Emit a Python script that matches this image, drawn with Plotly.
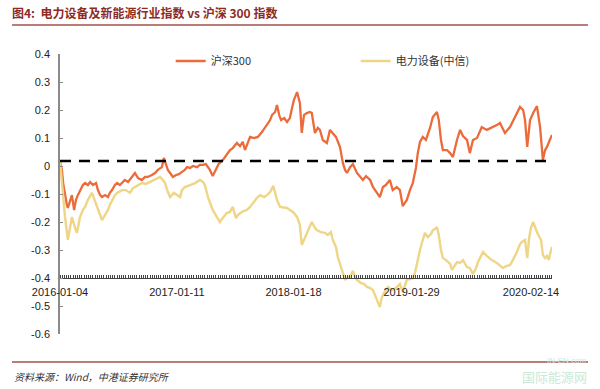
import plotly.graph_objects as go

# ---------------- data ----------------
hs300_dates = [
    "2016-01-04","2016-01-10","2016-01-14","2016-01-20","2016-01-26","2016-01-29","2016-02-05","2016-02-11",
    "2016-02-18","2016-02-24","2016-03-01","2016-03-08","2016-03-17","2016-03-24","2016-04-02","2016-04-09",
    "2016-04-18","2016-04-28","2016-05-04","2016-05-11","2016-05-17","2016-05-27","2016-06-05","2016-06-11",
    "2016-06-18","2016-06-27","2016-07-04","2016-07-13","2016-07-20","2016-07-29","2016-08-08","2016-08-21",
    "2016-08-30","2016-09-09","2016-09-21","2016-10-01","2016-10-10","2016-10-23","2016-11-02","2016-11-11",
    "2016-11-24","2016-11-30","2016-12-07","2016-12-13","2016-12-20","2016-12-29","2017-01-08","2017-01-17",
    "2017-01-27","2017-02-05","2017-02-12","2017-02-22","2017-03-03","2017-03-16","2017-03-25","2017-04-04",
    "2017-04-13","2017-04-26","2017-05-05","2017-05-15","2017-05-24","2017-06-06","2017-06-19","2017-06-29",
    "2017-07-08","2017-07-21","2017-07-31","2017-08-09","2017-08-16","2017-08-25","2017-09-01","2017-09-14",
    "2017-09-26","2017-10-09","2017-10-19","2017-10-25","2017-11-04","2017-11-10","2017-11-20","2017-11-26",
    "2017-12-03","2017-12-09","2017-12-19","2017-12-28","2018-01-06","2018-01-13","2018-01-19","2018-01-29",
    "2018-02-04","2018-02-07","2018-02-13","2018-02-20","2018-03-01","2018-03-11","2018-03-17","2018-03-27",
    "2018-04-05","2018-04-12","2018-04-21","2018-05-04","2018-05-14","2018-05-23","2018-06-02","2018-06-15",
    "2018-06-24","2018-07-01","2018-07-07","2018-07-17","2018-07-26","2018-08-08","2018-08-18","2018-08-27",
    "2018-09-06","2018-09-19","2018-09-28","2018-10-11","2018-10-20","2018-10-30","2018-11-08","2018-11-21",
    "2018-11-30","2018-12-13","2018-12-23","2019-01-01","2019-01-14","2019-01-24","2019-02-02","2019-02-12",
    "2019-02-18","2019-02-25","2019-03-06","2019-03-16","2019-03-29","2019-04-07","2019-04-20","2019-04-26",
    "2019-05-03","2019-05-09","2019-05-22","2019-06-01","2019-06-10","2019-06-23","2019-07-03","2019-07-12",
    "2019-07-25","2019-08-03","2019-08-13","2019-08-26","2019-09-10","2019-09-26","2019-10-16","2019-10-28",
    "2019-11-07","2019-11-23","2019-12-09","2019-12-25","2020-01-04","2020-01-10","2020-01-20","2020-01-26",
    "2020-02-02","2020-02-11","2020-02-21","2020-03-04","2020-03-14","2020-03-20","2020-03-23","2020-03-30",
    "2020-04-05","2020-04-14","2020-04-21",
]
hs300_values = [
    0.018,-0.014,-0.061,-0.104,-0.139,-0.150,-0.121,-0.104,
    -0.157,-0.121,-0.104,-0.086,-0.068,-0.061,-0.068,-0.057,
    -0.068,-0.061,-0.086,-0.104,-0.111,-0.104,-0.111,-0.096,
    -0.086,-0.068,-0.061,-0.068,-0.061,-0.050,-0.057,-0.039,
    -0.025,-0.043,-0.050,-0.039,-0.039,-0.032,-0.025,-0.014,
    -0.004,0.029,0.004,-0.014,-0.025,-0.039,-0.032,-0.029,
    -0.021,-0.014,-0.004,-0.007,0.000,-0.004,0.004,0.004,
    0.007,-0.014,-0.036,-0.014,0.007,0.021,0.039,0.057,
    0.064,0.082,0.071,0.086,0.057,0.082,0.104,0.100,
    0.104,0.121,0.136,0.146,0.164,0.182,0.193,0.218,
    0.182,0.164,0.171,0.157,0.171,0.207,0.236,0.264,
    0.243,0.225,0.118,0.182,0.189,0.193,0.189,0.118,
    0.136,0.129,0.093,0.082,0.129,0.118,0.104,0.068,
    0.011,-0.014,-0.025,-0.004,0.007,-0.025,-0.039,-0.050,
    -0.036,-0.050,-0.075,-0.096,-0.111,-0.075,-0.068,-0.050,
    -0.086,-0.075,-0.086,-0.143,-0.121,-0.086,-0.061,-0.007,
    0.046,0.086,0.104,0.093,0.136,0.175,0.193,0.164,
    0.093,0.057,0.057,0.046,0.032,0.093,0.129,0.107,
    0.093,0.046,0.093,0.100,0.139,0.129,0.139,0.146,
    0.154,0.118,0.139,0.175,0.200,0.211,0.200,0.164,
    0.068,0.164,0.189,0.214,0.139,0.075,0.021,0.057,
    0.068,0.093,0.111,
]

elec_dates = [
    "2016-01-04","2016-01-10","2016-01-20","2016-01-29","2016-02-05","2016-02-11","2016-02-21","2016-02-27",
    "2016-03-08","2016-03-17","2016-03-24","2016-04-02","2016-04-15","2016-04-24","2016-05-01","2016-05-11",
    "2016-05-17","2016-05-27","2016-06-05","2016-06-11","2016-06-18","2016-06-27","2016-07-04","2016-07-13",
    "2016-07-20","2016-08-01","2016-08-14","2016-08-24","2016-08-30","2016-09-12","2016-09-21","2016-10-04",
    "2016-10-17","2016-11-02","2016-11-11","2016-11-18","2016-11-27","2016-12-04","2016-12-13","2016-12-20",
    "2017-01-01","2017-01-14","2017-01-21","2017-01-27","2017-02-05","2017-02-22","2017-03-10","2017-03-25",
    "2017-04-04","2017-04-10","2017-04-20","2017-04-29","2017-05-05","2017-05-18","2017-05-28","2017-06-06",
    "2017-06-19","2017-06-29","2017-07-08","2017-07-18","2017-07-24","2017-08-06","2017-08-22","2017-09-01",
    "2017-09-10","2017-09-23","2017-10-03","2017-10-16","2017-10-25","2017-11-04","2017-11-14","2017-11-20",
    "2017-11-26","2017-12-06","2017-12-19","2017-12-28","2018-01-06","2018-01-16","2018-01-29","2018-02-07",
    "2018-02-13","2018-02-20","2018-03-01","2018-03-11","2018-03-17","2018-03-27","2018-04-02","2018-04-15",
    "2018-04-28","2018-05-07","2018-05-17","2018-05-23","2018-06-02","2018-06-08","2018-06-15","2018-06-21",
    "2018-07-01","2018-07-10","2018-07-17","2018-07-26","2018-08-01","2018-08-08","2018-08-21","2018-08-30",
    "2018-09-09","2018-09-19","2018-09-28","2018-10-07","2018-10-14","2018-10-20","2018-10-26","2018-11-02",
    "2018-11-15","2018-11-27","2018-12-10","2018-12-23","2019-01-01","2019-01-08","2019-01-14","2019-01-24",
    "2019-02-02","2019-02-09","2019-02-18","2019-02-25","2019-03-03","2019-03-13","2019-03-22","2019-04-01",
    "2019-04-07","2019-04-14","2019-04-20","2019-04-26","2019-05-03","2019-05-09","2019-05-19","2019-06-01",
    "2019-06-07","2019-06-17","2019-06-23","2019-07-03","2019-07-12","2019-07-25","2019-08-03","2019-08-13",
    "2019-08-23","2019-08-29","2019-09-07","2019-09-14","2019-09-26","2019-10-12","2019-10-28","2019-11-07",
    "2019-11-16","2019-11-29","2019-12-09","2019-12-18","2019-12-25","2019-12-31","2020-01-10","2020-01-16",
    "2020-01-26","2020-02-02","2020-02-08","2020-02-14","2020-02-21","2020-02-27","2020-03-04","2020-03-10",
    "2020-03-17","2020-03-23","2020-03-30","2020-04-05","2020-04-11","2020-04-14","2020-04-21",
]
elec_values = [
    0.018,-0.068,-0.182,-0.264,-0.211,-0.182,-0.221,-0.239,
    -0.182,-0.157,-0.146,-0.121,-0.096,-0.121,-0.146,-0.175,
    -0.193,-0.175,-0.157,-0.139,-0.121,-0.104,-0.096,-0.089,
    -0.086,-0.086,-0.096,-0.079,-0.075,-0.068,-0.061,-0.064,
    -0.057,-0.050,-0.043,-0.039,-0.050,-0.061,-0.093,-0.111,
    -0.096,-0.104,-0.111,-0.086,-0.075,-0.068,-0.061,-0.050,
    -0.057,-0.068,-0.111,-0.139,-0.157,-0.182,-0.200,-0.186,
    -0.168,-0.164,-0.146,-0.186,-0.175,-0.164,-0.157,-0.146,
    -0.132,-0.114,-0.104,-0.111,-0.104,-0.093,-0.071,-0.096,
    -0.121,-0.146,-0.150,-0.150,-0.157,-0.164,-0.182,-0.211,
    -0.282,-0.264,-0.246,-0.218,-0.200,-0.221,-0.229,-0.236,
    -0.239,-0.246,-0.236,-0.264,-0.289,-0.325,-0.354,-0.371,
    -0.407,-0.396,-0.396,-0.375,-0.393,-0.407,-0.418,-0.421,
    -0.432,-0.436,-0.443,-0.471,-0.489,-0.504,-0.471,-0.454,
    -0.432,-0.443,-0.436,-0.421,-0.450,-0.425,-0.407,-0.404,
    -0.400,-0.382,-0.332,-0.300,-0.275,-0.239,-0.254,-0.243,
    -0.229,-0.225,-0.218,-0.246,-0.300,-0.329,-0.336,-0.350,
    -0.371,-0.354,-0.343,-0.346,-0.336,-0.361,-0.364,-0.386,
    -0.364,-0.343,-0.321,-0.307,-0.321,-0.336,-0.346,-0.354,
    -0.364,-0.357,-0.354,-0.336,-0.321,-0.307,-0.279,-0.271,
    -0.264,-0.329,-0.257,-0.221,-0.200,-0.221,-0.236,-0.250,
    -0.264,-0.318,-0.329,-0.321,-0.336,-0.318,-0.289,
]

baseline_value = 0.018
x_tick_dates = ["2016-01-04", "2017-01-11", "2018-01-18", "2019-01-29", "2020-02-14"]
y_tick_values = [-0.6, -0.5, -0.4, -0.3, -0.2, -0.1, 0.0, 0.1, 0.2, 0.3, 0.4]
y_tick_labels = ["-0.6", "-0.5", "-0.4", "-0.3", "-0.2", "-0.1", "0", "0.1", "0.2", "0.3", "0.4"]
series_names = ["沪深300", "电力设备(中信)"]
title_text = "图4:  电力设备及新能源行业指数 vs 沪深 300 指数"
source_text = "资料来源：Wind，中港证券研究所"

X_START, X_END = "2016-01-04", "2020-04-21"
Y_MIN, Y_MAX = -0.6, 0.4

# ---------------- figure ----------------
fig = go.Figure()
fig.add_trace(go.Scatter(x=hs300_dates, y=hs300_values, mode="lines", name=series_names[0],
                         line=dict(color="#EC6B3B", width=2.3)))
fig.add_trace(go.Scatter(x=elec_dates, y=elec_values, mode="lines", name=series_names[1],
                         line=dict(color="#EFD586", width=2.4)))

# dashed reference line
fig.add_shape(type="line", xref="x", yref="y", x0=X_START, x1=X_END, y0=baseline_value, y1=baseline_value,
              line=dict(color="black", width=2.5, dash="11px,8px"))

# title underline and footer line
fig.add_shape(type="line", xref="paper", yref="paper", x0=-0.0976, x1=1.0732, y0=1.1036, y1=1.1036,
              line=dict(color="#A2514A", width=1.5))
fig.add_shape(type="line", xref="paper", yref="paper", x0=-0.0976, x1=1.0732, y0=-0.1, y1=-0.1,
              line=dict(color="#A2514A", width=1.5))

fig.add_annotation(text=source_text, xref="paper", yref="paper", x=-0.0976, y=-0.153,
                   xanchor="left", yanchor="middle", showarrow=False,
                   font=dict(family="Noto Sans CJK SC", size=10, color="#333333", style="italic"))
fig.add_annotation(text="IN-EN.com", xref="paper", yref="paper", x=1.03, y=-0.095,
                   xanchor="center", yanchor="middle", showarrow=False,
                   font=dict(family="Liberation Sans", size=8, color="#CFE6DC"))
fig.add_annotation(text="国际能源网", xref="paper", yref="paper", x=1.075, y=-0.153,
                   xanchor="right", yanchor="middle", showarrow=False,
                   font=dict(family="Noto Sans CJK SC", size=13, color="#CDE8D6"))

fig.update_layout(
    width=600, height=389,
    margin=dict(l=60, r=48, t=54, b=55),
    paper_bgcolor="white", plot_bgcolor="white",
    font=dict(family="Liberation Sans, Arial, sans-serif", size=11, color="#222222"),
    title=dict(text=title_text, x=12/600, xanchor="left", xref="container",
               y=1 - 14/389, yanchor="middle", yref="container",
               font=dict(family="Noto Sans CJK SC", size=12, color="#8E2A1F", weight="bold")),
    showlegend=True,
    legend=dict(orientation="h", x=0.225, y=0.975, xanchor="left", yanchor="middle",
                bgcolor="rgba(0,0,0,0)", entrywidth=140, entrywidthmode="pixels",
                font=dict(family="Noto Sans CJK SC, Liberation Sans", size=11, color="#333333")),
    xaxis=dict(type="date", range=[X_START, X_END], anchor="free", position=0.2,
               showline=True, linecolor="#444444", linewidth=1, showgrid=False, zeroline=False,
               tickmode="array", tickvals=x_tick_dates, ticktext=x_tick_dates, ticks="",
               ticklabelstandoff=4, tickfont=dict(size=11, color="#222222"),
               minor=dict(tickmode="linear", tick0=X_START, dtick=7 * 86400000, ticks="inside",
                          ticklen=3, tickwidth=1, tickcolor="#444444", showgrid=False)),
    yaxis=dict(range=[Y_MIN, Y_MAX], showline=True, linecolor="#8A8A8A", linewidth=1.5,
               showgrid=False, zeroline=False, tickmode="array", tickvals=y_tick_values,
               ticktext=y_tick_labels, ticks="inside", ticklen=3, tickcolor="#8A8A8A",
               ticklabelstandoff=6, tickfont=dict(size=11, color="#222222")),
)

fig.write_html("out.html", config={"displayModeBar": False},
               post_script="document.body.style.margin='0px';")
